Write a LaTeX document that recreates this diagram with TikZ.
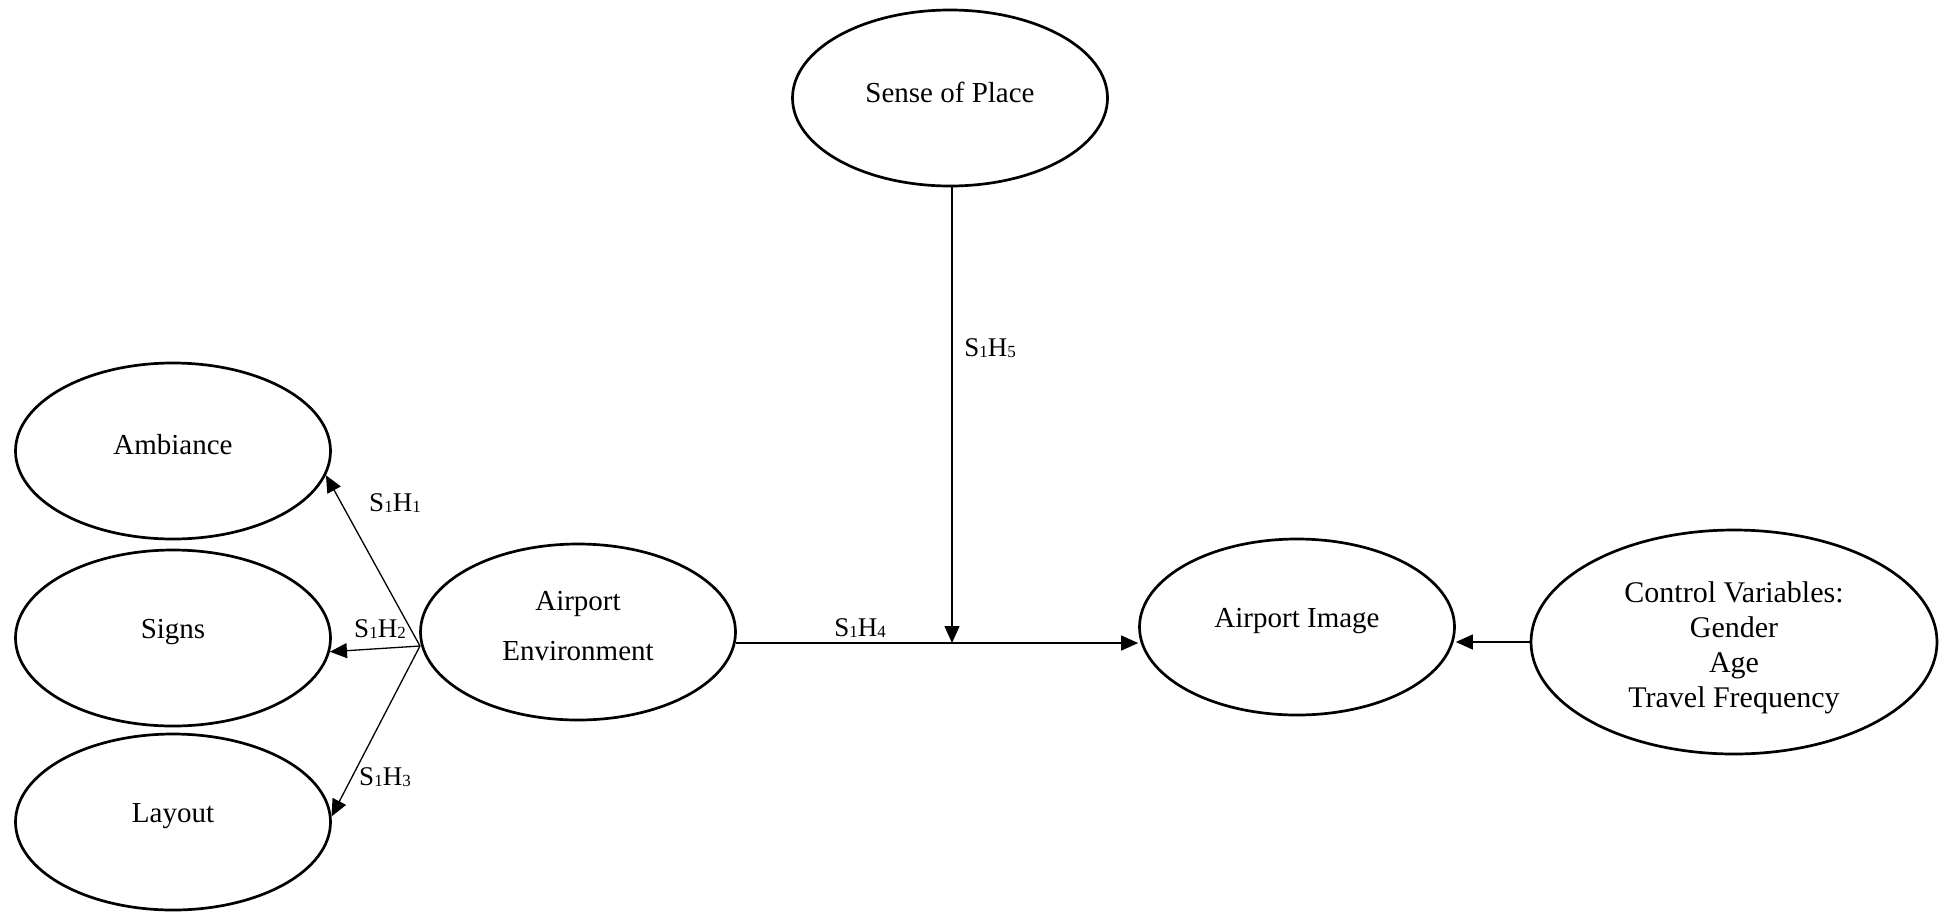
\documentclass[tikz,border=0pt]{standalone}
\usepackage{fontspec}
\setmainfont{Liberation Serif}
\usetikzlibrary{arrows.meta,shapes.geometric}
\newcommand\hsub[1]{\raisebox{-0.6pt}{\fontsize{8.5}{9}\selectfont #1}}
\begin{document}
\begin{tikzpicture}[x=0.5pt,y=-0.5pt,
  ell/.style={ellipse,draw,line width=1.35pt,inner sep=0pt,minimum width=157.5pt,minimum height=88pt},
  bigell/.style={ell,minimum width=203pt,minimum height=112pt},
  txt/.style={font=\fontsize{14.5}{25}\selectfont,align=center,inner sep=0pt,yshift=3pt},
  cvtxt/.style={txt,font=\fontsize{15}{17.5}\selectfont,yshift=-6pt},
  hyp/.style={font=\fontsize{13.5}{16}\selectfont,inner sep=0pt},
  conn/.style={line width=0.65pt,-{Triangle[length=8.5pt,width=7.5pt]}}]
\useasboundingbox (0,0) rectangle (1943,911);

\node[ell,label={[txt,name=SoPt]center:Sense of Place}] (SoP) at (950,98) {};
\node[ell,label={[txt,name=Ambt]center:Ambiance}] (Amb) at (173,451) {};
\node[ell,label={[txt,name=Sigt]center:Signs}] (Sig) at (173,638) {};
\node[ell,label={[txt,name=Layt]center:Layout}] (Lay) at (173,822) {};
\node[ell,label={[txt,name=AEt]center:Airport\\Environment}] (AE) at (578,632) {};
\node[ell,label={[txt,name=AIt]center:Airport Image}] (AI) at (1297,627) {};
\node[bigell,label={[cvtxt,name=CVt]center:Control Variables:\\Gender\\Age\\Travel Frequency}] (CV) at (1734,642) {};

\coordinate (hub) at (420,646);
\draw[conn] (hub) -- (Amb.-9);
\draw[conn] (hub) -- (Sig.-5);
\draw[conn] (hub) -- (Lay.2);

\draw[conn] (AE.-4) -- (AE.-4 -| AI.west);
\coordinate (top5) at ([xshift=1pt]SoP.south);
\coordinate (meet) at (top5 |- AE.-4);
\draw[conn] (top5) -- (meet);
\draw[conn] (CV.west) -- (CV.west -| AI.east);

\node[hyp] (h1) at (395,503) {S\hsub{1}H\hsub{1}};
\node[hyp] (h2) at (380,629) {S\hsub{1}H\hsub{2}};
\node[hyp] (h3) at (385,777) {S\hsub{1}H\hsub{3}};
\node[hyp] (h4) at (860,628) {S\hsub{1}H\hsub{4}};
\node[hyp] (h5) at (990,348) {S\hsub{1}H\hsub{5}};
\end{tikzpicture}
\end{document}
